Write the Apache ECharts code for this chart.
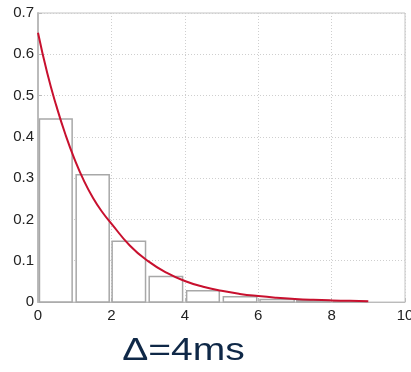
<!DOCTYPE html>
<html>
<head>
<meta charset="utf-8">
<script src="https://cdn.jsdelivr.net/npm/echarts@6/dist/echarts.min.js"></script>
<style>html,body{margin:0;padding:0;background:#fff}#c{width:411px;height:372px}</style>
</head>
<body>
<div id="c"></div>
<script>
// Histogram bins: start, end, height
var binStart = [0.04, 1.04, 2.02, 3.03, 4.05, 5.05, 6.05, 7.05, 8.05];
var binEnd   = [0.93, 1.94, 2.93, 3.94, 4.94, 5.96, 6.98, 7.95, 8.95];
var binValue = [0.443, 0.308, 0.147, 0.062, 0.027, 0.013, 0.006, 0.003, 0.001];
// Fitted curve
var curveX = [0, 0.25, 0.5, 0.75, 1, 1.25, 1.5, 1.75, 2, 2.5, 3, 3.5, 4, 4.5, 5, 5.5, 6, 6.5, 7, 7.5, 8, 8.5, 9];
var curveY = [0.652, 0.555, 0.475, 0.405, 0.345, 0.294, 0.252, 0.218, 0.19, 0.137, 0.099, 0.071, 0.051, 0.037, 0.027, 0.0195, 0.0143, 0.0103, 0.0074, 0.0053, 0.0038, 0.0028, 0.002];
var xTicks = [0, 2, 4, 6, 8, 10];
var yTicks = [0, 0.1, 0.2, 0.3, 0.4, 0.5, 0.6, 0.7];
var titleText = '\u0394=4ms';

var bars = binStart.map(function (s, i) { return [s, binEnd[i], binValue[i]]; });
var curve = curveX.map(function (x, i) { return [x, curveY[i]]; });

var chart = echarts.init(document.getElementById('c'));
var labelFont = { color: '#222', fontSize: 15, fontFamily: 'Liberation Sans, Arial, sans-serif' };
chart.setOption({
  animation: false,
  backgroundColor: '#fff',
  grid: { left: 38, right: 6, top: 13, bottom: 70, outerBoundsMode: 'none', containLabel: false,
          show: true, borderColor: '#c4c4c4', borderWidth: 1 },
  graphic: [{
    type: 'text', x: 183.5, y: 335, scaleX: 1.22,
    style: {
      text: titleText, x: 0, y: 0, align: 'center', verticalAlign: 'top',
      fill: '#0f2847', fontSize: 32, fontFamily: 'Liberation Sans, Arial, sans-serif'
    }
  }],
  xAxis: {
    type: 'value', min: 0, max: 10, interval: 2,
    axisLine: { show: true, lineStyle: { color: '#bbb', width: 1 } },
    axisTick: { show: true, inside: true, length: 4, lineStyle: { color: '#bbb' } },
    axisLabel: Object.assign({ margin: 6, formatter: function (v) { return xTicks.indexOf(v) >= 0 ? String(v) : ''; } }, labelFont),
    splitLine: { show: true, lineStyle: { color: '#cfcfcf', type: [1, 2], width: 1 } }
  },
  yAxis: {
    type: 'value', min: 0, max: 0.7, interval: 0.1,
    axisLine: { show: true, lineStyle: { color: '#bbb', width: 2 } },
    axisTick: { show: true, inside: true, length: 4, lineStyle: { color: '#bbb' } },
    axisLabel: Object.assign({ margin: 4, formatter: function (v) {
      var r = Math.round(v * 10) / 10; return yTicks.indexOf(r) >= 0 ? String(r) : ''; } }, labelFont),
    splitLine: { show: true, lineStyle: { color: '#cfcfcf', type: [1, 2], width: 1 } }
  },
  series: [
    {
      type: 'custom',
      data: bars,
      encode: { x: [0, 1], y: 2 },
      renderItem: function (params, api) {
        var p0 = api.coord([api.value(0), api.value(2)]);
        var p1 = api.coord([api.value(1), 0]);
        return {
          type: 'rect',
          shape: { x: p0[0], y: p0[1], width: p1[0] - p0[0], height: p1[1] - p0[1] },
          style: { fill: '#fff', stroke: '#a8a8a8', lineWidth: 1.5 }
        };
      },
      z: 2
    },
    {
      type: 'line',
      data: curve,
      smooth: true,
      showSymbol: false,
      lineStyle: { color: '#c8102e', width: 2 },
      z: 3
    }
  ]
});
</script>
</body>
</html>
